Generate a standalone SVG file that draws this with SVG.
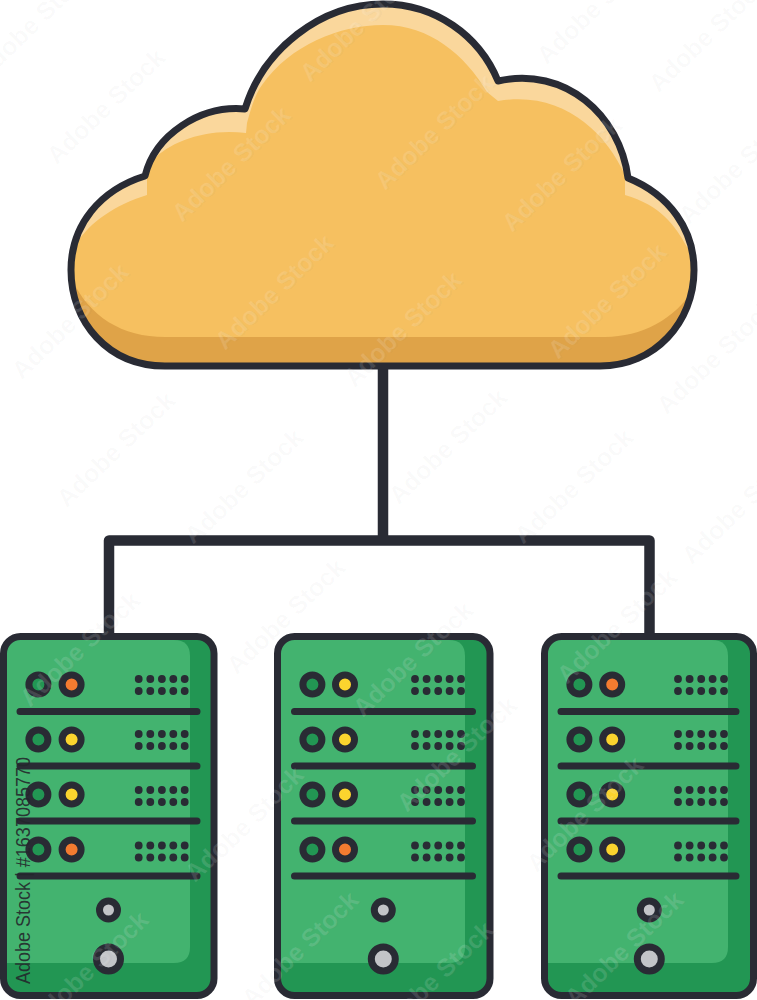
<svg xmlns="http://www.w3.org/2000/svg" xmlns:xlink="http://www.w3.org/1999/xlink" width="757" height="1000" viewBox="0 0 757 1000">
<style>
.ln{fill:none;stroke:#292B34;stroke-width:7;stroke-linejoin:round;stroke-linecap:round}
.conn{fill:none;stroke:#292B34;stroke-width:10.5;stroke-linejoin:round}
.dark{fill:#229653}.light{fill:#43B36F}
.led{stroke:#292B34;stroke-width:7}
.g{fill:#229653}.o{fill:#F47B30}.y{fill:#FBD42E}.s{fill:#C3C4C8}
.d{fill:#292B34}
.wm{font-family:"Liberation Sans",Arial,sans-serif;font-size:25px;font-weight:700;text-anchor:middle}
</style>
<defs>
<path id="cloudShape" d="M165 366C108 366 71 322 71 270C71 225 100 190 145 176C155 135 200 105 245 109C263 50 320 4 383 4C435 4 479 35 498 81C565 66 620 115 628 178C670 195 694 230 694 270C694 322 655 366 600 366Z"/>
<clipPath id="cloudClip"><use xlink:href="#cloudShape"/></clipPath>
<g id="dots">
<circle class="d" cx="0" cy="0" r="3.9"/><circle class="d" cx="11.6" cy="0" r="3.9"/><circle class="d" cx="23.2" cy="0" r="3.9"/><circle class="d" cx="34.6" cy="0" r="3.9"/><circle class="d" cx="46" cy="0" r="3.9"/>
<circle class="d" cx="0" cy="12" r="3.9"/><circle class="d" cx="11.6" cy="12" r="3.9"/><circle class="d" cx="23.2" cy="12" r="3.9"/><circle class="d" cx="34.6" cy="12" r="3.9"/><circle class="d" cx="46" cy="12" r="3.9"/>
</g>
<g id="mark"><text class="wm" x="1" y="1.5" fill="#707078" fill-opacity=".035">Adobe Stock</text><text class="wm" x="0" y="0" fill="#fff" fill-opacity=".13">Adobe Stock</text></g>
</defs>

<g id="connectors">
<path class="conn" d="M383 366V540.5M109 636V540.5H649.5V636"/>
</g>

<g id="cloud">
<use xlink:href="#cloudShape" fill="#FAD79C"/>
<g clip-path="url(#cloudClip)">
<path fill="#DFA348" d="M60 270H705V375H60Z"/>
<path fill="#F6C060" d="M60 255L77 243C90 222 115 205 147 195L147 178L153 160C170 142 205 128 246 133L247 123C252 105 255 95 262 85C290 45 340 25 383 25C430 25 465 55 487 92L498 101C560 90 605 130 625 175L625 195C660 205 675 225 687 247L705 262C692 310 650 337 605 337H165C120 337 85 315 68 270Z"/>
</g>
<use xlink:href="#cloudShape" class="ln"/>
</g>

<g id="server-1">
<rect class="dark" x="3.5" y="636.5" width="210.5" height="359" rx="17"/>
<path class="light" d="M7 640H174Q190 640 190 656V947Q190 963 174 963H7Z"/>
<rect class="ln" x="3.5" y="636.5" width="210.5" height="359" rx="17"/>
<path class="ln" d="M20 711.5H197M20 766H197M20 821H197M20 876H197"/>
<circle class="led g" cx="38.4" cy="684.5" r="9.5"/><circle class="led o" cx="71.6" cy="684.5" r="9.5"/>
<circle class="led g" cx="38.4" cy="739.5" r="9.5"/><circle class="led y" cx="71.6" cy="739.5" r="9.5"/>
<circle class="led g" cx="38.4" cy="794.5" r="9.5"/><circle class="led y" cx="71.6" cy="794.5" r="9.5"/>
<circle class="led g" cx="38.4" cy="849.5" r="9.5"/><circle class="led o" cx="71.6" cy="849.5" r="9.5"/>
<use xlink:href="#dots" x="138.7" y="679"/><use xlink:href="#dots" x="138.7" y="734"/><use xlink:href="#dots" x="138.7" y="790"/><use xlink:href="#dots" x="138.7" y="845.5"/>
<circle class="led s" cx="108.5" cy="910" r="9"/><circle class="led s" cx="108.5" cy="959" r="12"/>
</g>

<g id="server-2">
<rect class="dark" x="277.5" y="636.5" width="212.5" height="359" rx="17"/>
<path class="light" d="M281 640H449Q465 640 465 656V947Q465 963 449 963H281Z"/>
<rect class="ln" x="277.5" y="636.5" width="212.5" height="359" rx="17"/>
<path class="ln" d="M294.5 711.5H472.5M294.5 766H472.5M294.5 821H472.5M294.5 876H472.5"/>
<circle class="led g" cx="312.4" cy="684.5" r="9.5"/><circle class="led y" cx="345" cy="684.5" r="9.5"/>
<circle class="led g" cx="312.4" cy="739.5" r="9.5"/><circle class="led y" cx="345" cy="739.5" r="9.5"/>
<circle class="led g" cx="312.4" cy="794.5" r="9.5"/><circle class="led y" cx="345" cy="794.5" r="9.5"/>
<circle class="led g" cx="312.4" cy="849.5" r="9.5"/><circle class="led o" cx="345" cy="849.5" r="9.5"/>
<use xlink:href="#dots" x="415" y="679"/><use xlink:href="#dots" x="415" y="734"/><use xlink:href="#dots" x="415" y="790"/><use xlink:href="#dots" x="415" y="845.5"/>
<circle class="led s" cx="383.3" cy="910" r="9"/><circle class="led s" cx="383.3" cy="959" r="12"/>
</g>

<g id="server-3">
<rect class="dark" x="544.5" y="636.5" width="209" height="359" rx="17"/>
<path class="light" d="M548 640H712Q728 640 728 656V947Q728 963 712 963H548Z"/>
<rect class="ln" x="544.5" y="636.5" width="209" height="359" rx="17"/>
<path class="ln" d="M561 711.5H736M561 766H736M561 821H736M561 876H736"/>
<circle class="led g" cx="579.4" cy="684.5" r="9.5"/><circle class="led o" cx="612.2" cy="684.5" r="9.5"/>
<circle class="led g" cx="579.4" cy="739.5" r="9.5"/><circle class="led y" cx="612.2" cy="739.5" r="9.5"/>
<circle class="led g" cx="579.4" cy="794.5" r="9.5"/><circle class="led y" cx="612.2" cy="794.5" r="9.5"/>
<circle class="led g" cx="579.4" cy="849.5" r="9.5"/><circle class="led y" cx="612.2" cy="849.5" r="9.5"/>
<use xlink:href="#dots" x="678" y="679"/><use xlink:href="#dots" x="678" y="734"/><use xlink:href="#dots" x="678" y="790"/><use xlink:href="#dots" x="678" y="845.5"/>
<circle class="led s" cx="649.3" cy="910" r="9"/><circle class="led s" cx="649.3" cy="959" r="12"/>
</g>

<g id="watermarks">
<use xlink:href="#mark" transform="translate(38 28) rotate(-44)"/>
<use xlink:href="#mark" transform="translate(110 112) rotate(-44)"/>
<use xlink:href="#mark" transform="translate(237 170) rotate(-44)"/>
<use xlink:href="#mark" transform="translate(365 30) rotate(-44)"/>
<use xlink:href="#mark" transform="translate(440 138) rotate(-44)"/>
<use xlink:href="#mark" transform="translate(567 180) rotate(-44)"/>
<use xlink:href="#mark" transform="translate(600 12) rotate(-44)"/>
<use xlink:href="#mark" transform="translate(712 40) rotate(-44)"/>
<use xlink:href="#mark" transform="translate(742 172) rotate(-44)"/>
<use xlink:href="#mark" transform="translate(75 327) rotate(-44)"/>
<use xlink:href="#mark" transform="translate(280 298) rotate(-44)"/>
<use xlink:href="#mark" transform="translate(408 335) rotate(-44)"/>
<use xlink:href="#mark" transform="translate(613 307) rotate(-44)"/>
<use xlink:href="#mark" transform="translate(720 362) rotate(-44)"/>
<use xlink:href="#mark" transform="translate(120 455) rotate(-44)"/>
<use xlink:href="#mark" transform="translate(248 492) rotate(-44)"/>
<use xlink:href="#mark" transform="translate(452 452) rotate(-44)"/>
<use xlink:href="#mark" transform="translate(578 492) rotate(-44)"/>
<use xlink:href="#mark" transform="translate(745 512) rotate(-44)"/>
<use xlink:href="#mark" transform="translate(85 655) rotate(-44)"/>
<use xlink:href="#mark" transform="translate(290 622) rotate(-44)"/>
<use xlink:href="#mark" transform="translate(418 665) rotate(-44)"/>
<use xlink:href="#mark" transform="translate(622 632) rotate(-44)"/>
<use xlink:href="#mark" transform="translate(250 830) rotate(-44)"/>
<use xlink:href="#mark" transform="translate(462 760) rotate(-44)"/>
<use xlink:href="#mark" transform="translate(590 820) rotate(-44)"/>
<use xlink:href="#mark" transform="translate(95 975) rotate(-44)"/>
<use xlink:href="#mark" transform="translate(305 955) rotate(-44)"/>
<use xlink:href="#mark" transform="translate(440 985) rotate(-44)"/>
<use xlink:href="#mark" transform="translate(630 955) rotate(-44)"/>
</g>

<text id="credit" transform="translate(29.5 984) rotate(-90)" font-family="'Liberation Sans',Arial,sans-serif" font-size="20" textLength="227" lengthAdjust="spacingAndGlyphs" fill="#23262b" fill-opacity=".88">Adobe Stock | #1637085770</text>
</svg>
